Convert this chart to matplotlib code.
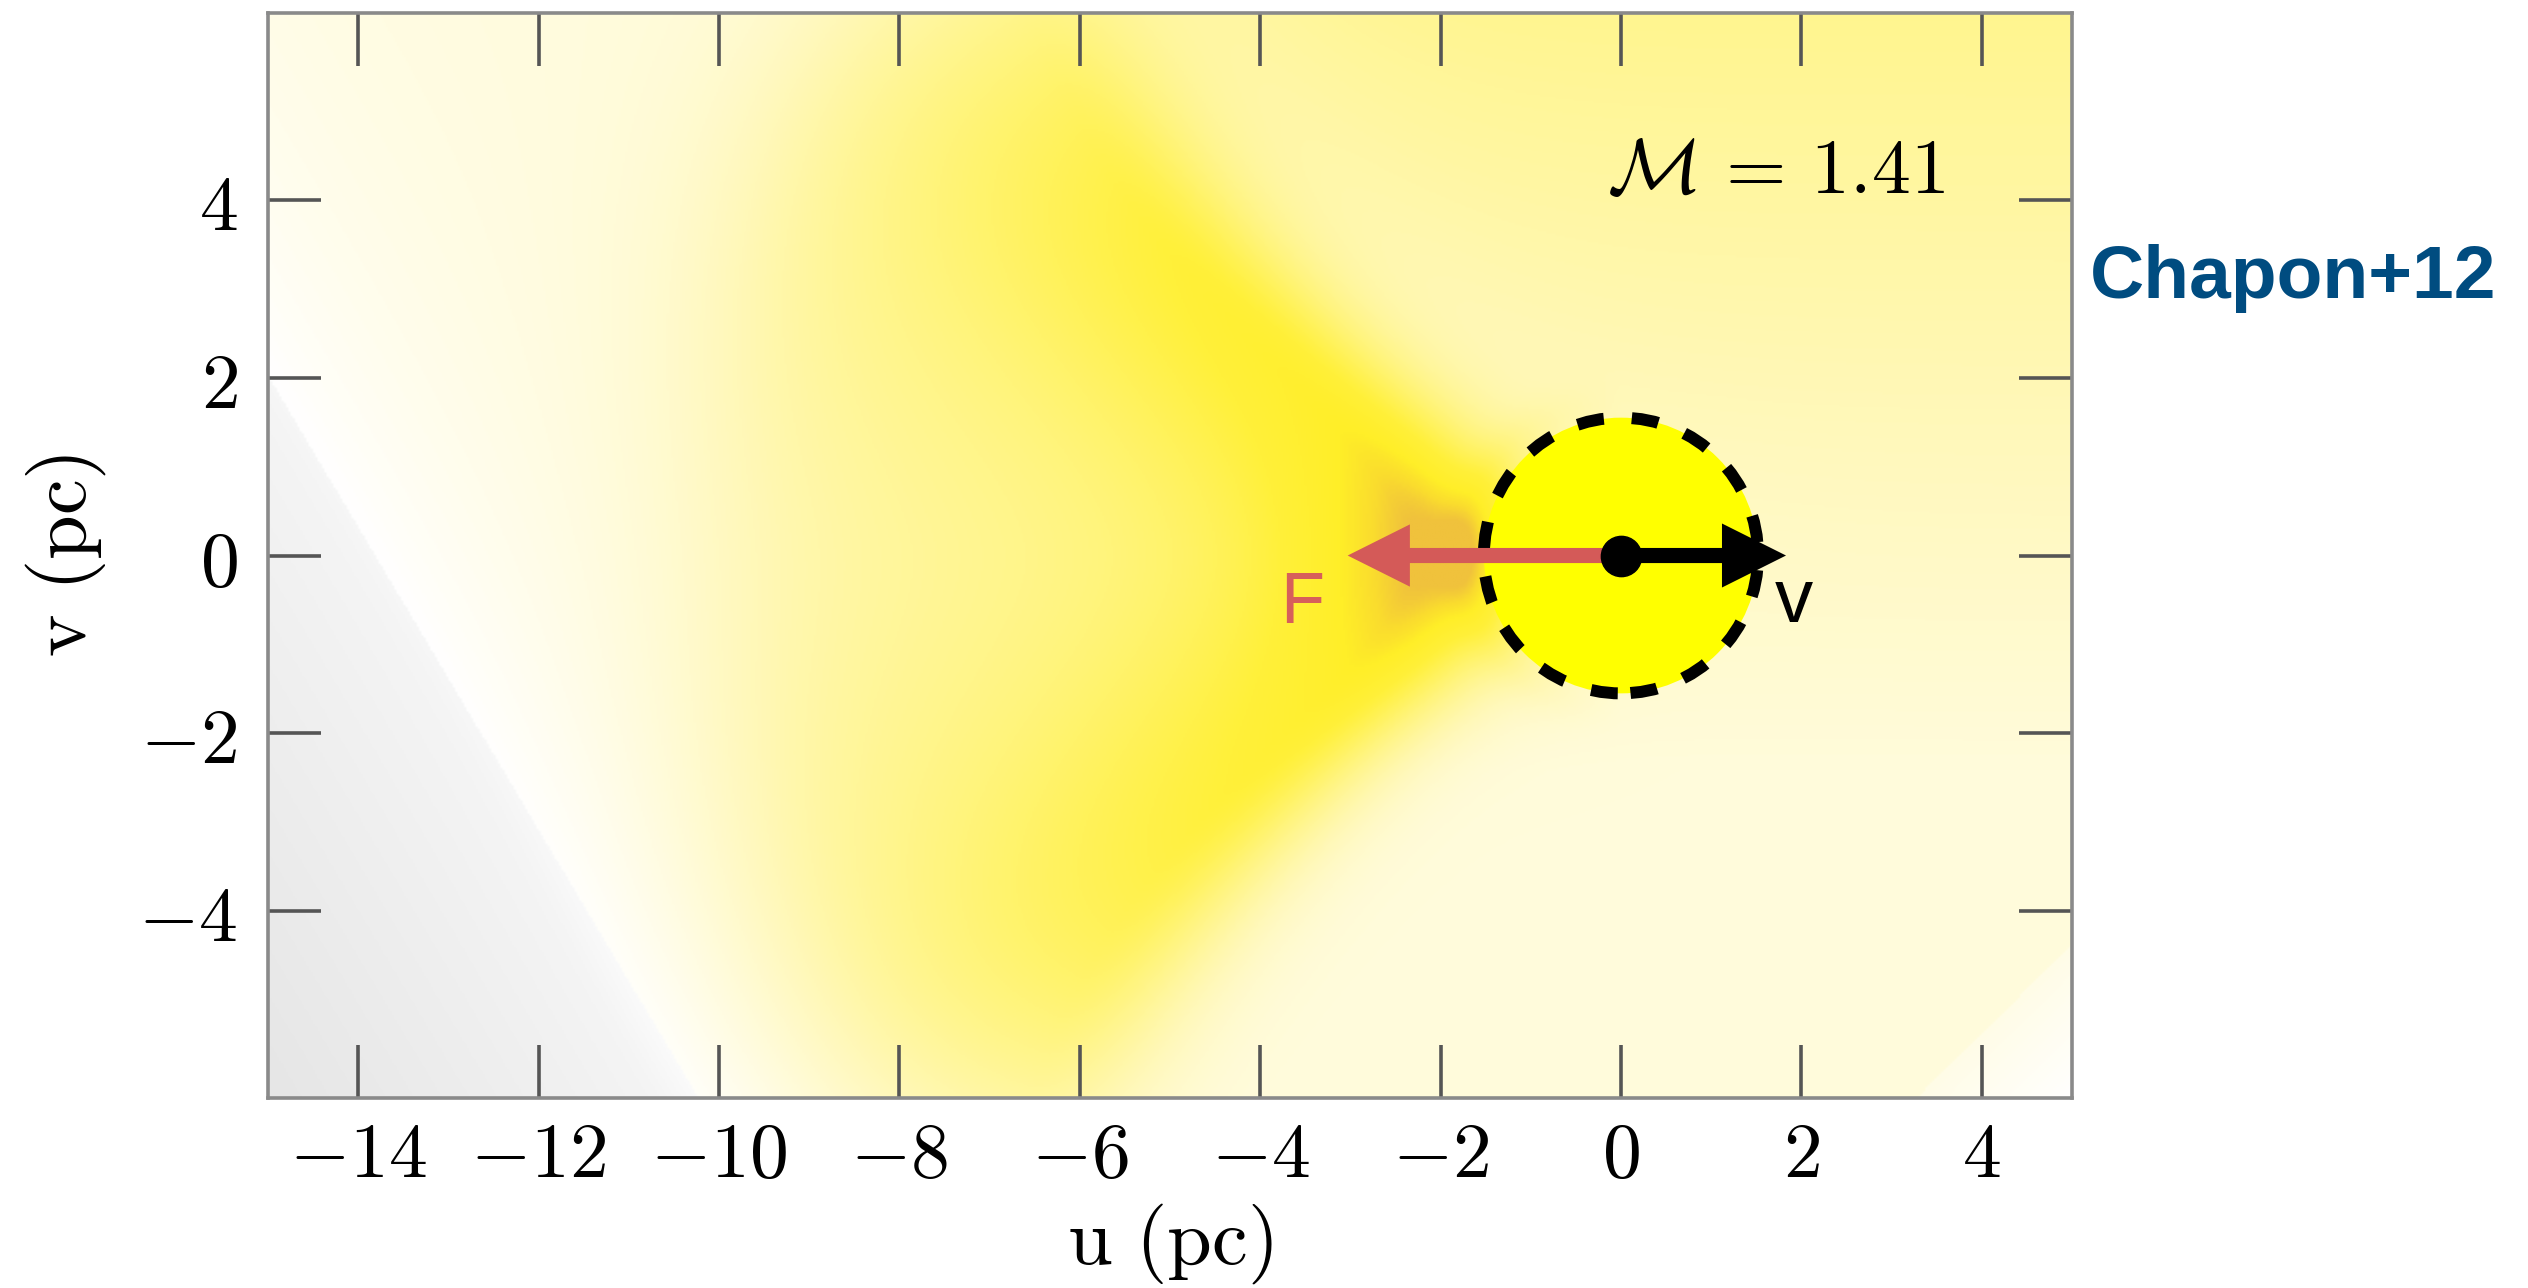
import numpy as np
import matplotlib.pyplot as plt
from matplotlib.colors import LinearSegmentedColormap
from matplotlib.patches import Ellipse

plt.rcParams['mathtext.fontset'] = 'cm'

# axes ranges and ticks (pc)
u_lim = [-15, 5]
v_lim = [-6.1, 6.1]
u_ticks = [-14, -12, -10, -8, -6, -4, -2, 0, 2, 4]
v_ticks = [-4, -2, 0, 2, 4]

# perturber, its radius and the two arrows
mach = 1.41
pert_u, pert_v = 0.0, 0.0
pert_rad_u, pert_rad_v = 1.52, 1.55
vel_len = 1.83
force_len = -3.03

# wake shape
ridge_u0 = -1.3        # front edge of the wake on the axis
ridge_bend = 5.0       # the wake edge bends back towards vertical
wake_back_u = -10.2    # rear edge of the wake
grey_edge = [(-15, 2), (-10.3, -6)]   # grey corner, lower left
grey_edge2 = [(3.3, -6.1), (5, -4.4)]  # grey corner, lower right

# colour scale (value -> colour)
cmap_vals = [-0.5, -0.08, 0.0, 0.12, 0.3, 0.55, 0.8, 0.95, 1.03, 1.1]
cmap_cols = ['#DEDEDE', '#F4F4F4', '#FFFFFF', '#FFFCE2', '#FFF8B8',
             '#FFF47A', '#FFF03A', '#FFEE28', '#FADC2E', '#F0C23C']

###
# Density map
###
uu, vv = np.meshgrid(np.linspace(u_lim[0], u_lim[1], 800),
                     np.linspace(v_lim[0], v_lim[1], 500))
r2 = uu**2 + vv**2
r = np.sqrt(r2)
av = np.abs(vv)

# distance behind the peak of the wake (negative = behind)
g = 1.3 * av**2 / (1.5 + av)
w = uu - ridge_u0 + ridge_bend * np.tanh(g / ridge_bend) + 1.0
amp = (0.64 + 0.2 * np.exp(-r2 / 15)) * np.exp(-(av / 6.5)**4)
back = 0.8 * np.exp(np.minimum(w, 0) / 10) + 0.2 * np.exp(-(w / 2.5)**2)
wake = np.where(w < 0, back, np.exp(-(w / 1.4)**2)) * amp
wake *= 1 / (1 + np.exp(-(uu - wake_back_u - 0.03 * vv**2) / 0.7))

# pile-up just behind the perturber
near = 0.17 * np.exp(-((uu + 2) / 1.6)**2 - (vv / 1.4)**2)
cos_t = np.clip(-uu / np.maximum(r, 1e-6), 0, 1)
orange = 0.12 * np.exp(-((r - 1.7) / 0.3)**2) * cos_t

(a1, b1), (a2, b2) = grey_edge
d1 = np.hypot(a2 - a1, b2 - b1)
tl = ((uu - a1) * (b1 - b2) + (vv - b1) * (a2 - a1)) / d1
(c1, e1), (c2, e2) = grey_edge2
d2 = np.hypot(c2 - c1, e2 - e1)
t2 = ((uu - c1) * (e2 - e1) - (vv - e1) * (c2 - c1)) / d2

front = 1 / (1 + np.exp(-(w - 1.5)))
base = 0.15 * (1 - np.exp(-np.clip(tl, 0, None) / 2)) \
    + front * np.clip(0.09 + 0.037 * vv, 0, None)
grey = np.where(tl < 0, -0.06 + 0.07 * np.clip(tl, -4, 0), 0)
grey2 = np.where(t2 > 0, -0.05 - 0.08 * np.clip(t2, 0, 2), 0)
field = base + wake + near + orange + grey + grey2

pos = [(x - cmap_vals[0]) / (cmap_vals[-1] - cmap_vals[0]) for x in cmap_vals]
cmap = LinearSegmentedColormap.from_list('wake', list(zip(pos, cmap_cols)))

###
# Plotting
###
fig = plt.figure(figsize=(25.28, 12.88), dpi=100)
ax = fig.add_axes([0.106, 0.1475, 0.7136, 0.8424])

ax.imshow(field, extent=[u_lim[0], u_lim[1], v_lim[0], v_lim[1]], origin='lower',
          cmap=cmap, vmin=cmap_vals[0], vmax=cmap_vals[-1], aspect='auto',
          interpolation='bilinear', zorder=0)

# perturber
ax.add_patch(Ellipse((pert_u, pert_v), 2 * pert_rad_u, 2 * pert_rad_v,
                     facecolor='#FFFF00', edgecolor='none', zorder=2))
ax.add_patch(Ellipse((pert_u, pert_v), 2 * pert_rad_u, 2 * pert_rad_v,
                     facecolor='none', edgecolor='black', linewidth=8.6,
                     linestyle=(3.8, (2.25, 2.35)), capstyle='butt', zorder=3))
ax.arrow(pert_u, pert_v, force_len, 0, width=0.17, head_width=0.7, head_length=0.69,
         length_includes_head=True, color='#D45A58', linewidth=0, zorder=4)
ax.arrow(pert_u, pert_v, vel_len, 0, width=0.17, head_width=0.72, head_length=0.71,
         length_includes_head=True, color='black', linewidth=0, zorder=5)
ax.plot(pert_u, pert_v, 'o', color='black', markersize=29, zorder=6)

ax.text(-3.53, -0.76, 'F', color='#D75F5A', fontsize=52, family='Liberation Sans',
        ha='center', va='baseline', zorder=7)
ax.text(1.92, -0.75, 'v', color='black', fontsize=55, family='Liberation Sans',
        ha='center', va='baseline', zorder=7)
ax.text(1.72, 4.08, r'$\mathcal{M}\, =\, %.2f$' % mach, fontsize=56,
        ha='center', va='baseline', zorder=7)

# Setup
ax.set_xlim(u_lim)
ax.set_ylim(v_lim)
ax.set_xticks(u_ticks)
ax.set_yticks(v_ticks)
ax.set_xticklabels(['$%d$' % t for t in u_ticks])
ax.set_yticklabels(['$%d$' % t for t in v_ticks])
ax.tick_params(axis='both', which='both', direction='in', top=True, right=True,
               length=38, width=2.6, color='#555555', labelsize=56)
ax.tick_params(axis='x', pad=14)
ax.tick_params(axis='y', pad=22)
for sp in ax.spines.values():
    sp.set_color('#8A8A8A')
    sp.set_linewidth(2.6)

ax.set_xlabel(r'$\mathrm{u\ (pc)}$', fontsize=58, labelpad=6)
ax.set_ylabel(r'$\mathrm{v\ (pc)}$', fontsize=58, labelpad=22)

fig.text(0.8267, 0.7686, 'Chapon+12', color='#004C80', fontsize=54,
         fontweight='bold', family='Liberation Sans', ha='left', va='baseline')

plt.savefig('out.png', dpi=100)
